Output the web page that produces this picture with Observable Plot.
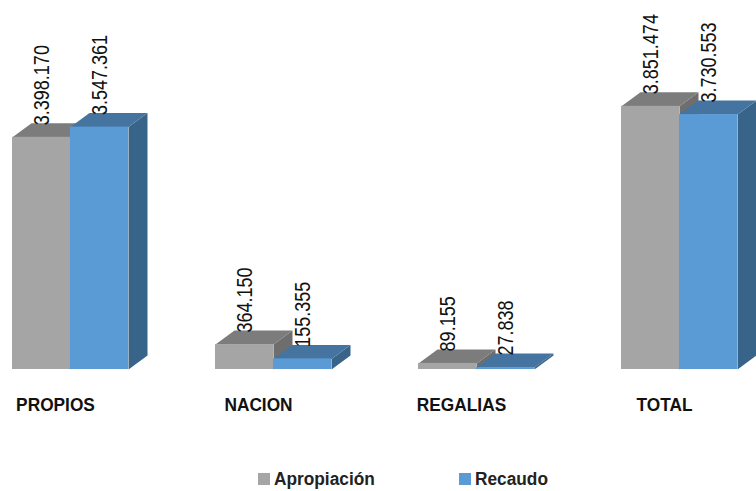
<!DOCTYPE html>
<html>
<head>
<meta charset="utf-8">
<script src="https://cdn.jsdelivr.net/npm/d3@7"></script>
<script src="https://cdn.jsdelivr.net/npm/@observablehq/plot@0.6"></script>
<style>
html,body{margin:0;padding:0;background:#fff;width:756px;height:491px;overflow:hidden}
#chart svg{display:block}
#legend{position:absolute;left:0;top:466px;width:756px;height:26px;font:bold 18px "Liberation Sans",sans-serif;color:#222}
#legend span{position:absolute;top:2px;line-height:22px;white-space:nowrap;transform-origin:left center}
#legend i{position:absolute;top:7px;width:12px;height:12px}
</style>
</head>
<body>
<div id="chart"></div>
<div id="legend"></div>
<script>
const categories = ["PROPIOS", "NACION", "REGALIAS", "TOTAL"];
const apropiacion = [3398170, 364150, 89155, 3851474];
const recaudo = [3547361, 155355, 27838, 3730553];
const apropiacionLabels = ["3.398.170", "364.150", "89.155", "3.851.474"];
const recaudoLabels = ["3.547.361", "155.355", "27.838", "3.730.553"];
const seriesNames = ["Apropiación", "Recaudo"];

const barW = 58 / 203, depthX = 19 / 203, depthY = 205000;
const font = '"Liberation Sans",sans-serif';

const series = [
  {values: apropiacion, labels: apropiacionLabels, off: 0, front: "#a5a5a5", top: "#7c7c7c", side: "#6e6e6e"},
  {values: recaudo, labels: recaudoLabels, off: barW, front: "#5b9bd5", top: "#44749f", side: "#38648a"}
];

const marks = series.flatMap(s => {
  const bars = s.values.map((v, i) => ({v, i, x0: i + s.off, x1: i + s.off + barW}));
  const poly = f => bars.flatMap(b => f(b).map(([x, y]) => ({x, y, z: b.i})));
  const side = poly(b => [[b.x1, 0], [b.x1 + depthX, depthY], [b.x1 + depthX, b.v + depthY], [b.x1, b.v]]);
  const top = poly(b => [[b.x0, b.v], [b.x0 + depthX, b.v + depthY], [b.x1 + depthX, b.v + depthY], [b.x1, b.v]]);
  return [
    Plot.line(side, {x: "x", y: "y", z: "z", fill: s.side, stroke: "none"}),
    Plot.line(top, {x: "x", y: "y", z: "z", fill: s.top, stroke: "none"}),
    Plot.rect(bars, {x1: "x0", x2: "x1", y1: 0, y2: "v", fill: s.front})
  ];
});

const labelMarks = series.map(s => Plot.text(s.values.map((v, i) => ({v, i, l: s.labels[i]})), {
  x: d => d.i + s.off + barW / 2, y: "v", text: "l", rotate: -90, textAnchor: "start",
  dy: -12, fontSize: 22, fontFamily: font, fill: "#111", className: "val"
}));

const plot = Plot.plot({
  width: 756, height: 440,
  marginLeft: 0, marginRight: 0, marginTop: 0, marginBottom: 71,
  x: {type: "linear", domain: [-12 / 203, 744 / 203], axis: null},
  y: {domain: [0, 5400000], axis: null},
  marks: [
    ...marks,
    ...labelMarks,
    Plot.text(categories, {
      x: (d, i) => i + 43 / 203, y: () => 0, text: d => d, dy: 35,
      fontSize: 19, fontFamily: font, fontWeight: "bold", fill: "#111", className: "cat"
    })
  ]
});
document.getElementById("chart").append(plot);

// No narrow face is installed: condense the glyphs to the reference's proportions.
d3.select(plot).selectAll(".val text").each(function () {
  this.setAttribute("transform", this.getAttribute("transform") + " scale(0.82,1)");
});
d3.select(plot).selectAll(".cat text").each(function () {
  this.setAttribute("textLength", this.getComputedTextLength() * 0.91);
  this.setAttribute("lengthAdjust", "spacingAndGlyphs");
});

const legend = document.getElementById("legend");
[[258, 274], [459, 475]].forEach(([sq, tx], i) => {
  const box = document.createElement("i");
  box.style.left = sq + "px";
  box.style.background = series[i].front;
  const t = document.createElement("span");
  t.style.left = tx + "px";
  t.style.transform = "scaleX(0.96)";
  t.textContent = seriesNames[i];
  legend.append(box, t);
});
</script>
</body>
</html>
